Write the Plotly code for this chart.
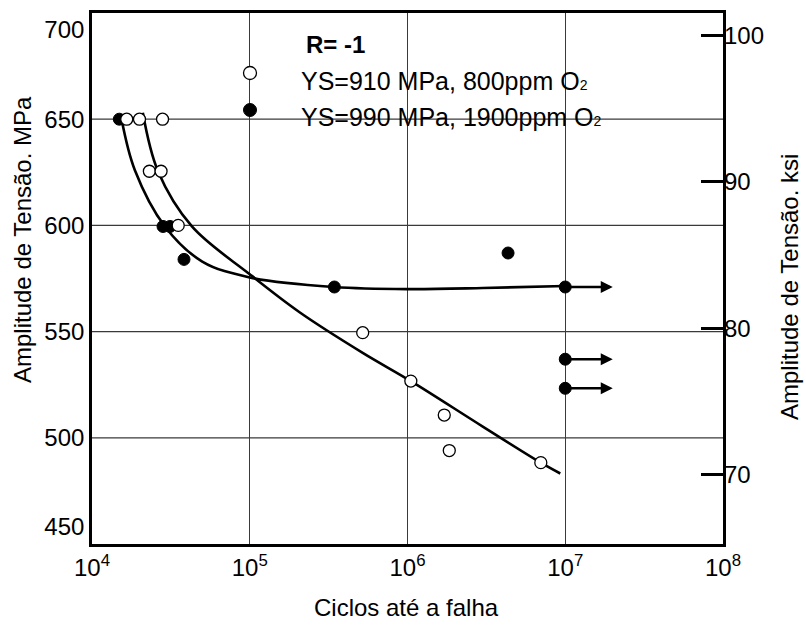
import numpy as np
import plotly.graph_objects as go

# ---- data ----
ys910_N = [16600, 20000, 28000, 23100, 27400, 35200, 5.2e5, 1.05e6, 1.71e6, 1.84e6, 7.0e6]
ys910_S = [650, 650, 650, 625.5, 625.5, 600, 549.5, 526.7, 510.7, 494, 488.3]

ys990_N = [14900, 28200, 31200, 38300, 3.44e5, 4.34e6, 1e7, 1e7, 1e7]
ys990_S = [650, 599.5, 599.5, 584, 571, 587, 571, 537, 523.3]

runout_S = [571, 537, 523.3]
runout_from = 1e7
runout_to = 2e7

curve910_N = [21000, 26200, 43000, 1e5, 2.08e5, 5.2e5, 1.05e6, 3e6, 7.0e6, 9.3e6]
curve910_S = [653, 625.5, 599.5, 577.0, 559.0, 540.0, 526.7, 505.3, 488.3, 483.2]

curve990_N = [15400, 18700, 29000, 50000, 1e5, 3.44e5, 1e6, 3e6, 1e7]
curve990_S = [650, 626, 599.5, 583, 575.5, 571, 570, 570.5, 571.5]

x_ticks = [1e4, 1e5, 1e6, 1e7, 1e8]
x_ticktext = ["10<sup>4</sup>", "10<sup>5</sup>", "10<sup>6</sup>", "10<sup>7</sup>", "10<sup>8</sup>"]
y_ticks = [458, 500, 550, 600, 650, 692]
y_ticktext = ["450", "500", "550", "600", "650", "700"]
ksi_ticks = [70, 80, 90, 100]
MPA_PER_KSI = 6.894757

FONT = "Liberation Sans, Arial, Helvetica, sans-serif"
FS = 24

L, R, T, B = 92, 723, 13, 544
W, H = R - L, B - T
def px2paper(px, py):
    return (px - L) / W, (B - py) / H

fig = go.Figure()

fig.add_trace(go.Scatter(x=curve990_N, y=curve990_S, mode="lines",
                         line=dict(color="black", width=2.6, shape="spline", smoothing=1.0),
                         showlegend=False, hoverinfo="skip"))
fig.add_trace(go.Scatter(x=curve910_N, y=curve910_S, mode="lines",
                         line=dict(color="black", width=2.6, shape="spline", smoothing=1.0),
                         showlegend=False, hoverinfo="skip"))

fig.add_trace(go.Scatter(x=ys990_N, y=ys990_S, mode="markers",
                         marker=dict(symbol="circle", size=12, color="black",
                                     line=dict(color="black", width=1)),
                         name="YS=990 MPa, 1900ppm O2", showlegend=False))
fig.add_trace(go.Scatter(x=ys910_N, y=ys910_S, mode="markers",
                         marker=dict(symbol="circle", size=12, color="white",
                                     line=dict(color="black", width=1.3)),
                         name="YS=910 MPa, 800ppm O2", showlegend=False))

# invisible trace to activate the secondary (ksi) axis
fig.add_trace(go.Scatter(x=[1e4], y=[600], yaxis="y2", mode="markers",
                         marker=dict(opacity=0), showlegend=False, hoverinfo="skip"))

annotations = []
for s in runout_S:
    annotations.append(dict(x=np.log10(runout_to), y=s, ax=np.log10(runout_from), ay=s,
                            xref="x", yref="y", axref="x", ayref="y", text="",
                            showarrow=True, arrowhead=2, arrowsize=1.0, arrowwidth=2.4,
                            arrowcolor="black"))

def text_ann(px, py, text, size=FS, angle=0, xanchor="center"):
    x0, y0 = px2paper(px, py)
    return dict(x=x0, y=y0, xref="paper", yref="paper", xanchor=xanchor, yanchor="middle",
                text=text, textangle=angle, showarrow=False,
                font=dict(family=FONT, size=size, color="black"))

annotations += [
    text_ann(304, 45, "<b>R= -1</b>", size=24, xanchor="left"),
    text_ann(299, 81, "YS=910 MPa, 800ppm O<span style='font-size:14px'>2</span>",
             size=25, xanchor="left"),
    text_ann(299, 117, "YS=990 MPa, 1900ppm O<span style='font-size:14px'>2</span>",
             size=25, xanchor="left"),
    text_ann(22, 240, "Amplitude de Tensão. MPa", angle=-90),
    text_ann(406, 607, "Ciclos até a falha"),
    text_ann(789, 287, "Amplitude de Tensão. ksi", angle=-90),
]

lx, ly1 = px2paper(250, 73)
_, ly2 = px2paper(250, 110)
shapes = [
    dict(type="rect", xref="paper", yref="paper", x0=(195 - L) / W, x1=(677 - L) / W,
         y0=(B - 142) / H, y1=1, fillcolor="white", line=dict(width=0), layer="between"),
    dict(type="circle", xref="paper", yref="paper", xsizemode="pixel", ysizemode="pixel",
         xanchor=lx, yanchor=ly1, x0=-6.5, x1=6.5, y0=-6.5, y1=6.5,
         fillcolor="white", line=dict(color="black", width=1.3)),
    dict(type="circle", xref="paper", yref="paper", xsizemode="pixel", ysizemode="pixel",
         xanchor=lx, yanchor=ly2, x0=-6.5, x1=6.5, y0=-6.5, y1=6.5,
         fillcolor="black", line=dict(color="black", width=1)),
]

grid_y = [500, 550, 600, 650]
for gy in grid_y:
    shapes.append(dict(type="line", xref="paper", yref="y", x0=0, x1=1, y0=gy, y1=gy,
                       line=dict(color="#3a3a3a", width=1.2), layer="below"))

fig.update_layout(
    width=806, height=625,
    margin=dict(l=L, r=806 - R, t=T, b=625 - B, autoexpand=False),
    paper_bgcolor="white", plot_bgcolor="white",
    showlegend=False,
    font=dict(family=FONT, size=FS, color="black"),
    xaxis=dict(type="log", range=[4, 8], tickvals=x_ticks, ticktext=x_ticktext,
               showgrid=True, gridcolor="#3a3a3a", gridwidth=1.2,
               showline=True, linecolor="black", linewidth=2.6, mirror=True,
               ticks="", zeroline=False, tickfont=dict(size=FS)),
    yaxis=dict(range=[450, 700], tickvals=y_ticks, ticktext=y_ticktext,
               showgrid=False, showline=True, linecolor="black", linewidth=2.6,
               mirror=True, ticks="", zeroline=False, tickfont=dict(size=FS)),
    yaxis2=dict(overlaying="y", side="right", range=[450, 700],
                tickvals=[k * MPA_PER_KSI for k in ksi_ticks],
                ticktext=[str(k) for k in ksi_ticks],
                ticks="inside", ticklen=22, tickwidth=2.6, tickcolor="black",
                showgrid=False, zeroline=False, showline=False,
                tickfont=dict(size=FS)),
    annotations=annotations,
    shapes=shapes,
)

fig.write_html("out.html", config={"displayModeBar": False},
               post_script="document.body.style.margin='0';document.body.style.overflow='hidden';")
